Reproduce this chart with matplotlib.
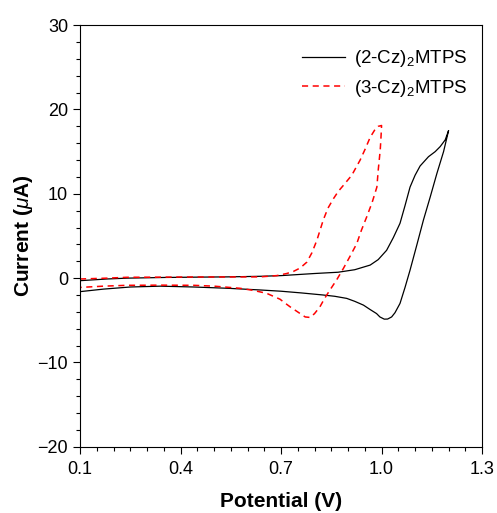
import matplotlib
matplotlib.use("Agg")
import matplotlib.pyplot as plt
from matplotlib.ticker import MultipleLocator

# Cyclic voltammograms
# (2-Cz)2MTPS: forward scan then return scan
cz2_v = [0.1, 0.18, 0.24, 0.35, 0.45, 0.54, 0.64, 0.70, 0.74, 0.80, 0.87, 0.92,
         0.966, 0.99, 1.015, 1.035, 1.055, 1.07, 1.085, 1.1, 1.115, 1.14, 1.16,
         1.175, 1.19, 1.20,
         1.185, 1.165, 1.145, 1.125, 1.105, 1.085, 1.07, 1.055, 1.04, 1.03,
         1.018, 1.008, 0.995, 0.985, 0.965, 0.946, 0.92, 0.896, 0.86, 0.826,
         0.76, 0.70, 0.637, 0.54, 0.44, 0.34, 0.25, 0.17, 0.1]
cz2_i = [-0.3, -0.1, 0.0, 0.08, 0.12, 0.15, 0.22, 0.3, 0.4, 0.55, 0.7, 1.0,
         1.55, 2.2, 3.3, 4.8, 6.5, 8.6, 10.8, 12.2, 13.3, 14.4, 15.0,
         15.6, 16.4, 17.5,
         15.0, 12.4, 9.6, 6.9, 3.9, 0.95, -1.1, -3.0, -4.1, -4.6,
         -4.85, -4.86, -4.6, -4.2, -3.7, -3.2, -2.75, -2.4, -2.15, -2.0,
         -1.75, -1.55, -1.4, -1.2, -1.05, -0.95, -1.05, -1.3, -1.6]

# (3-Cz)2MTPS
cz3_v = [0.1, 0.18, 0.24, 0.4, 0.5, 0.637, 0.687, 0.717, 0.737, 0.757, 0.777,
         0.792, 0.807, 0.826, 0.84, 0.856, 0.871, 0.886, 0.911, 0.936, 0.951,
         0.966, 0.98, 0.99, 1.0,
         0.998, 0.996, 0.99, 0.986, 0.972, 0.956, 0.94, 0.926, 0.906, 0.886,
         0.866, 0.846, 0.83, 0.816, 0.8, 0.787, 0.772, 0.757, 0.742, 0.727,
         0.71, 0.697, 0.657, 0.617, 0.577, 0.5, 0.44, 0.34, 0.24, 0.17, 0.1]
cz3_i = [-0.1, 0.0, 0.1, 0.13, 0.14, 0.15, 0.3, 0.55, 0.8, 1.2, 1.9,
         3.0, 4.5, 6.9, 8.3, 9.4, 10.3, 11.0, 12.2, 14.0, 15.3,
         16.7, 17.6, 18.0, 18.1,
         16.5, 15.2, 12.8, 10.8, 9.0, 7.3, 5.7, 4.1, 2.6, 1.15,
         -0.2, -1.4, -2.4, -3.4, -4.2, -4.66, -4.6, -4.2, -3.8, -3.4,
         -2.9, -2.5, -1.8, -1.45, -1.2, -0.95, -0.85, -0.83, -0.85, -0.95, -1.1]

labels = ["(2-Cz)$_2$MTPS", "(3-Cz)$_2$MTPS"]
x_ticks = [0.1, 0.4, 0.7, 1.0, 1.3]
x_tick_labels = ["0.1", "0.4", "0.7", "1.0", "1.3"]
y_ticks = [-20, -10, 0, 10, 20, 30]

plt.rcParams["font.family"] = ["Liberation Sans", "DejaVu Sans"]
plt.rcParams["mathtext.fontset"] = "custom"
plt.rcParams["mathtext.rm"] = "Liberation Sans"
plt.rcParams["mathtext.it"] = "Liberation Sans:italic"
plt.rcParams["mathtext.bf"] = "Liberation Sans:bold"

fig = plt.figure(figsize=(4.97, 5.13), dpi=100)
ax = fig.add_axes([0.161, 0.129, 0.809, 0.822])

ax.plot(cz2_v, cz2_i, color="black", lw=0.9, label=labels[0])
ax.plot(cz3_v, cz3_i, color="red", lw=1.1, ls=(0, (4, 3)), label=labels[1])

ax.set_xlim(0.1, 1.3)
ax.set_ylim(-20, 30)
ax.set_xticks(x_ticks)
ax.set_xticklabels(x_tick_labels)
ax.set_yticks(y_ticks)
ax.xaxis.set_minor_locator(MultipleLocator(0.05))
ax.yaxis.set_minor_locator(MultipleLocator(2))
ax.tick_params(which="major", direction="out", length=5, width=0.8, labelsize=13)
ax.tick_params(axis="x", which="major", pad=5)
ax.tick_params(which="minor", direction="out", length=3, width=0.8)
for s in ax.spines.values():
    s.set_linewidth(0.8)

ax.set_xlabel("Potential (V)", fontsize=15, fontweight="bold", labelpad=10)
ax.set_ylabel(r"Current ($\mu$A)", fontsize=15, fontweight="bold", labelpad=2)

ax.legend(loc="upper right", bbox_to_anchor=(1.005, 0.985), frameon=False,
          fontsize=13.5, handlelength=2.3, handletextpad=0.45, labelspacing=0.45)

fig.savefig("out.png", dpi=100)
